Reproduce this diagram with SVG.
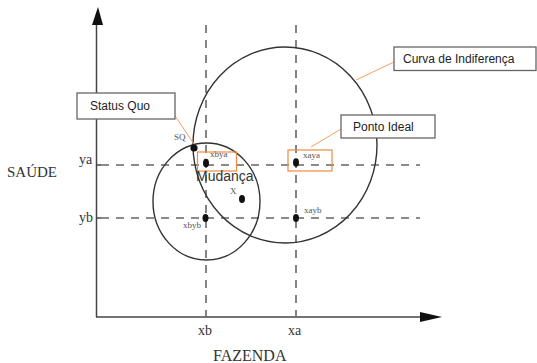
<svg xmlns="http://www.w3.org/2000/svg" width="537" height="363" viewBox="0 0 537 363">
<style>
.axis{stroke:#444;stroke-width:1.5;fill:none}
.dash{stroke:#666;stroke-width:1.6;stroke-dasharray:8 7;fill:none}
.curve{stroke:#333;stroke-width:1.4;fill:none}
.dot{fill:#111}
.serif{font-family:"Liberation Serif","Times New Roman",serif;fill:#333}
.small{font-size:9px;fill:#555}
.box{fill:#fff;stroke:#666;stroke-width:1.3}
.hl{fill:none;stroke:#f08a3c;stroke-width:1.2}
.lead{stroke:#f6a060;stroke-width:1;fill:none}
.lbl{font-family:"Liberation Sans",Arial,sans-serif;font-size:12px;fill:#222}
</style>
<g id="axes">
<line class="axis" x1="96.5" y1="22" x2="96.5" y2="317"/>
<line class="axis" x1="96" y1="317" x2="422" y2="317"/>
<polygon points="98,7 92,25 103,25" fill="#111"/>
<polygon points="442,317 420,312 420,322" fill="#111"/>
<line class="axis" x1="96" y1="165" x2="101" y2="165"/>
<line class="axis" x1="96" y1="218" x2="101" y2="218"/>
</g>
<g id="guides">
<line class="dash" x1="206" y1="25" x2="206" y2="317"/>
<line class="dash" x1="296" y1="25" x2="296" y2="317"/>
<line class="dash" x1="101" y1="165" x2="420" y2="165"/>
<line class="dash" x1="101" y1="218" x2="420" y2="218"/>
</g>
<g id="indifference-curve"><ellipse class="curve" cx="285" cy="145" rx="92" ry="98"/></g>
<g id="change-curve"><ellipse class="curve" cx="206.5" cy="201.5" rx="53.5" ry="58.5"/></g>
<g id="labels">
<text class="serif" x="7" y="177" font-size="15">SAÚDE</text>
<text class="serif" x="79" y="164" font-size="14">ya</text>
<text class="serif" x="79" y="222" font-size="14">yb</text>
<text class="serif" x="198" y="335" font-size="14">xb</text>
<text class="serif" x="288" y="335" font-size="14">xa</text>
<text class="serif" x="213" y="361" font-size="16">FAZENDA</text>
</g>
<g id="points">
<g id="sq"><circle class="dot" cx="194" cy="148" r="3.6"/><text class="serif small" x="174" y="140">SQ</text></g>
<g id="xbya"><ellipse class="dot" cx="206" cy="163" rx="3" ry="4.3"/><text class="serif small" x="210" y="157" font-size="8">xbya</text><rect class="hl" x="197.5" y="152" width="39" height="19"/></g>
<g id="xaya"><ellipse class="dot" cx="296" cy="162.5" rx="3" ry="4.3"/><text class="serif small" x="303" y="158" font-size="8">xaya</text><rect class="hl" x="288" y="150" width="44" height="21"/></g>
<g id="x"><ellipse class="dot" cx="242" cy="199" rx="3" ry="4"/><text class="serif small" x="230" y="194">X</text></g>
<g id="xbyb"><ellipse class="dot" cx="205.5" cy="218" rx="3" ry="4"/><text class="serif small" x="183" y="228" font-size="8">xbyb</text></g>
<g id="xayb"><ellipse class="dot" cx="296" cy="218" rx="3" ry="4"/><text class="serif small" x="304" y="213" font-size="8">xayb</text></g>
<text x="196" y="181" font-family="Liberation Sans,Arial,sans-serif" font-size="14" fill="#333">Mudança</text>
</g>
<g id="connectors">
<line class="lead" x1="175" y1="116" x2="194" y2="144"/>
<line class="lead" x1="341" y1="129" x2="311" y2="147"/>
<line class="lead" x1="394" y1="62" x2="356" y2="80"/>
</g>
<g id="callout-sq"><rect class="box" x="77" y="93" width="98" height="26"/><text class="lbl" x="90" y="110">Status Quo</text></g>
<g id="callout-ideal"><rect class="box" x="341" y="115" width="94" height="23"/><text class="lbl" x="353" y="131">Ponto Ideal</text></g>
<g id="callout-curve"><rect class="box" x="394" y="47" width="142" height="23.5"/><text class="lbl" x="403" y="63">Curva de Indiferença</text></g>
</svg>
